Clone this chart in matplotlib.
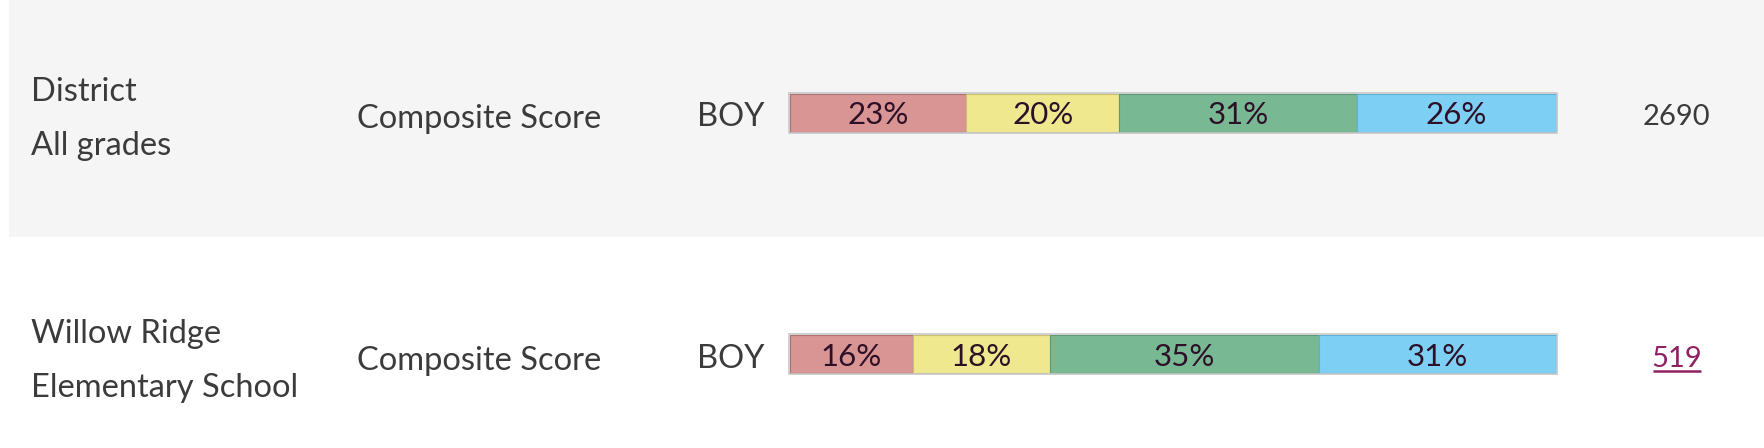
import matplotlib
matplotlib.use("Agg")
import matplotlib.pyplot as plt
import numpy as np

# ---- data ----
row_names = [["District", "All grades"], ["Willow Ridge", "Elementary School"]]
measures = ["Composite Score", "Composite Score"]
periods = ["BOY", "BOY"]
red_pct = [23, 16]
yellow_pct = [20, 18]
green_pct = [31, 35]
blue_pct = [26, 31]
counts = ["2690", "519"]
count_is_link = [False, True]

seg_colors = ["#d99594", "#efe88e", "#78b994", "#7dcff3"]
seg_edges = ["#b07070", "#c8c070", "#5a9a76", "#5fb0d6"]

W, H = 1764, 448
fig = plt.figure(figsize=(W / 100, H / 100), dpi=100)
fig.patch.set_facecolor("white")
ax = fig.add_axes([0, 0, 1, 1])
ax.set_xlim(0, W)
ax.set_ylim(H, 0)
ax.axis("off")

font = "Lato"
txt_color = "#3b3b3b"

# grey band behind first row
ax.add_patch(plt.Rectangle((9, 0), W - 9, 237, facecolor="#f5f5f5", edgecolor="none", zorder=0))

bar_x0, bar_x1 = 790, 1556
bar_w = bar_x1 - bar_x0
row_centers = [113, 354.5]
bar_h = 38
name_baselines = [(101, 155), (343, 397)]
label_baselines = [128, 370]

series = [red_pct, yellow_pct, green_pct, blue_pct]
for i in range(2):
    left = bar_x0
    vals = [s[i] for s in series]
    total = sum(vals)
    for j, v in enumerate(vals):
        w = v / total * bar_w
        ax.barh(row_centers[i], w, left=left, height=bar_h, color=seg_colors[j],
                edgecolor=seg_edges[j], linewidth=0.8, zorder=2)
        ax.text(left + w / 2, row_centers[i] + 11, f"{v}%", ha="center", va="baseline",
                fontsize=22.5, family=font, color="#2d1028", zorder=3)
        left += w
    # outer border
    ax.add_patch(plt.Rectangle((bar_x0 - 1, row_centers[i] - bar_h / 2 - 1), bar_w + 2, bar_h + 2,
                               facecolor="none", edgecolor="#c8c8c8", linewidth=1.2, zorder=4))

    n1, n2 = row_names[i]
    ax.text(31, name_baselines[i][0], n1, ha="left", va="baseline", fontsize=23.5,
            family=font, color=txt_color)
    ax.text(31, name_baselines[i][1], n2, ha="left", va="baseline", fontsize=23.5,
            family=font, color=txt_color)
    ax.text(357, label_baselines[i], measures[i], ha="left", va="baseline", fontsize=23.5,
            family=font, color=txt_color)
    ax.text(697, label_baselines[i] - 2, periods[i], ha="left", va="baseline", fontsize=23.5,
            family=font, color=txt_color)
    if count_is_link[i]:
        ax.text(1677, 367, counts[i], ha="center", va="baseline",
                fontsize=21, family=font, color="#8e2162")
        ax.plot([1653, 1701], [371, 371], color="#8e2162", linewidth=1.8, solid_capstyle="butt")
    else:
        ax.text(1676, 125, counts[i], ha="center", va="baseline",
                fontsize=21, family=font, color=txt_color)

fig.savefig("out.png", dpi=100, facecolor="white")
